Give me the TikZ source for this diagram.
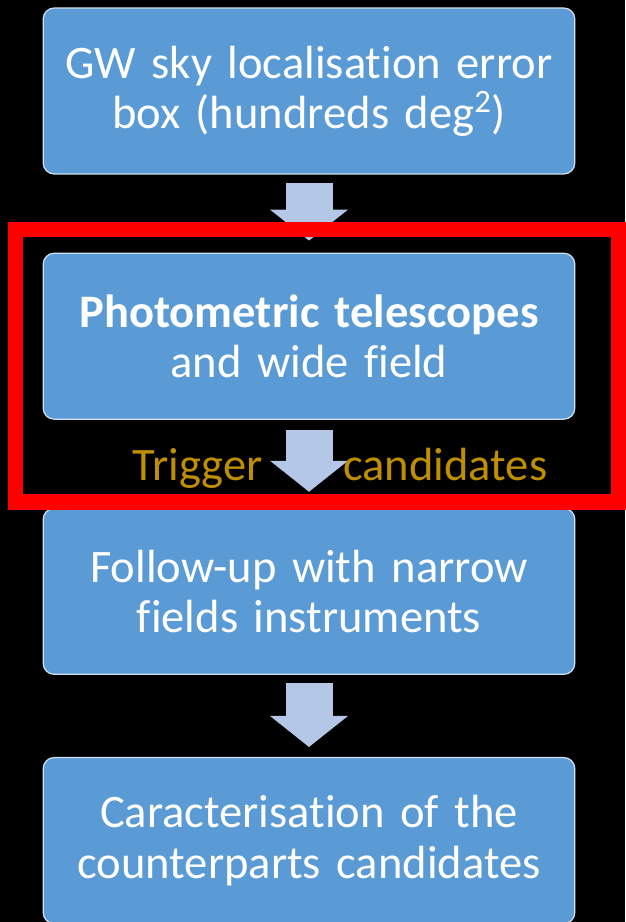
\documentclass[tikz,border=0pt]{standalone}
\usepackage{fontspec}
\setmainfont[Ligatures=NoCommon]{Carlito}
\usetikzlibrary{positioning,arrows.meta,backgrounds}

\definecolor{boxblue}{HTML}{5B9BD5}
\definecolor{arrowblue}{HTML}{B4C7E7}
\definecolor{triggergold}{HTML}{BF8F00}

\begin{document}
\begin{tikzpicture}[x=0.02cm,y=-0.02cm,
    stage/.style={draw=white!70!boxblue, line width=0.7pt, fill=boxblue, rounded corners=0.22cm,
        text=white, align=center, text width=10.4cm, minimum width=10.56cm, minimum height=3.32cm,
        font=\fontsize{26.5}{28.5}\selectfont},
    flow/.style={draw=arrowblue, line width=0.94cm,
        -{Triangle[width=1.56cm,length=0.62cm,line width=0pt 0 0]}},
    note/.style={text=triggergold, inner sep=0pt, font=\fontsize{26.5}{28.5}\selectfont},
    frame/.style={draw=red, line width=0.32cm}
    ]

    \useasboundingbox (0,0) rectangle (625,922);
    \begin{scope}[on background layer]
    \fill[black] (0,0) rectangle (625,922);
    \end{scope}

    \node[stage] (gw) at (309,91) {GW sky localisation error\\box (hundreds deg\textsuperscript{2})};
    \node[stage, below=1.56cm of gw] (photo) {\textbf{Photometric telescopes}\\and wide field};
    \node[stage, below=1.76cm of photo] (follow) {Follow-up with narrow\\fields instruments};
    \node[stage, below=1.64cm of follow] (carac) {Caracterisation of the\\counterparts candidates};

    \draw[flow] ([yshift=-0.16cm]gw.south) -- ([yshift=0.24cm]photo.north);
    \draw[flow] ([yshift=-0.2cm]photo.south) -- ([yshift=0.32cm]follow.north);
    \draw[flow] ([yshift=-0.16cm]follow.south) -- ([yshift=0.2cm]carac.north);

    \node[note, anchor=base east] (trig) at (263,480) {Trigger};
    \node[note, anchor=base west] (cand) at (343,480) {candidates};

    \draw[frame] (15.5,229.5) rectangle (619,501.5);
\end{tikzpicture}
\end{document}
